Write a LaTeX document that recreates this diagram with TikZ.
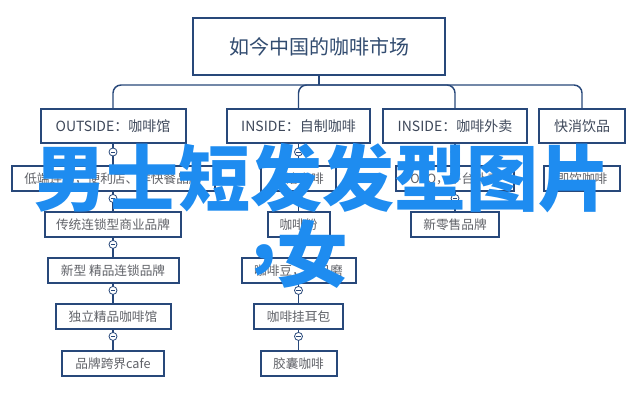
\documentclass[tikz,border=0pt]{standalone}
\usepackage{fontspec}
\setmainfont{Noto Sans CJK SC}

\definecolor{boxline}{RGB}{40,72,122}
\definecolor{headtext}{RGB}{50,76,112}
\definecolor{subtext}{RGB}{62,72,90}
\definecolor{leaftext}{RGB}{96,98,104}
\definecolor{overlay}{RGB}{30,140,240}

\tikzset{every picture/.style={line width=0.75pt}}
\tikzset{
  topbox/.style={draw=boxline, line width=2.2pt, fill=white, inner sep=0pt,
    minimum width=189pt, minimum height=42.75pt, text=headtext, font=\fontsize{15}{18}\selectfont},
  kindbox/.style={draw=boxline, line width=1.5pt, fill=white, inner sep=0pt,
    minimum height=25.5pt, text=subtext, font=\fontsize{10.5}{12}\selectfont},
  leafbox/.style={draw=boxline, line width=1.5pt, fill=white, inner sep=0pt,
    minimum height=18.4pt, text=leaftext, font=\fontsize{9.5}{11}\selectfont},
  link/.style={draw=boxline, line width=1.1pt},
  fold/.style={circle, draw=boxline, line width=0.6pt, fill=white, inner sep=0pt, minimum size=6pt,
    path picture={\draw[boxline, line width=0.5pt] ([xshift=-1.6pt]path picture bounding box.center) -- ([xshift=1.6pt]path picture bounding box.center);}},
  stamp/.style={text=overlay, inner sep=0pt, font=\fontsize{54}{60}\selectfont\bfseries}
}

\begin{document}
\begin{tikzpicture}[x=0.75pt,y=0.75pt,yscale=-1,xscale=1]
	\useasboundingbox (0,0) rectangle (640,400);
	
	%Title box
	\node [topbox] (market) at (319,46.5) {如今中国的咖啡市场};
	\coordinate (bus) at (319,85);
	
	%Second row
	\node [kindbox, minimum width=108.75pt] (outside) at (113,126) {OUTSIDE：咖啡馆};
	\node [kindbox, minimum width=107.25pt] (homemade) at (298.5,126) {INSIDE：自制咖啡};
	\node [kindbox, minimum width=108pt] (delivery) at (455,126) {INSIDE：咖啡外卖};
	\node [kindbox, minimum width=64.5pt] (fmcg) at (582,126) {快消饮品};
	
	%Outside column
	\node [leafbox, minimum width=152.25pt] (lowend) at (113,178.5) {低端连锁，便利店、洋快餐品牌};
	\node [leafbox, minimum width=102pt] (classic) at (113,224.5) {传统连锁型商业品牌};
	\node [leafbox, minimum width=98.25pt] (boutique) at (113,270.5) {新型 精品连锁品牌};
	\node [leafbox, minimum width=86.25pt] (indie) at (113,316.5) {独立精品咖啡馆};
	\node [leafbox, minimum width=76.5pt] (crossover) at (113,363.5) {品牌跨界cafe};
	
	%Homemade column
	\node [leafbox, minimum width=56.25pt] (instant) at (298.5,178.5) {速溶咖啡};
	\node [leafbox, minimum width=46.5pt] (powder) at (298.5,224.5) {咖啡粉};
	\node [leafbox, minimum width=85.5pt] (beans) at (298.5,270.5) {咖啡豆，自已磨};
	\node [leafbox, minimum width=66.75pt] (dripbag) at (298.5,316.5) {咖啡挂耳包};
	\node [leafbox, minimum width=57pt] (capsule) at (298.5,363.5) {胶囊咖啡};
	
	%Delivery column
	\node [leafbox, minimum width=88.5pt] (otwoo) at (455,178.5) {O2O，平台外卖};
	\node [leafbox, minimum width=66pt] (newretail) at (455,224.5) {新零售品牌};
	
	%FMCG column
	\node [leafbox, minimum width=57pt] (ready) at (582,178.5) {即饮咖啡};
	
	%Tree from title
	\draw [link] (market.south) -- (bus);
	\draw [link, rounded corners=6] (bus) -| (outside.north);
	\draw [link, rounded corners=6] (bus) -| (homemade.north);
	\draw [link, rounded corners=6] (bus) -| (delivery.north);
	\draw [link, rounded corners=6] (bus) -| (fmcg.north);
	
	%Straight links
	\draw [link] (outside.south) -- (lowend.north);
	\draw [link] (lowend.south) -- (classic.north);
	\draw [link] (classic.south) -- (boutique.north);
	\draw [link] (boutique.south) -- (indie.north);
	\draw [link] (indie.south) -- (crossover.north);
	\draw [link] (homemade.south) -- (instant.north);
	\draw [link] (instant.south) -- (powder.north);
	\draw [link] (powder.south) -- (beans.north);
	\draw [link] (beans.south) -- (dripbag.north);
	\draw [link] (dripbag.south) -- (capsule.north);
	\draw [link] (delivery.south) -- (otwoo.north);
	\draw [link] (otwoo.south) -- (newretail.north);
	\draw [link] (fmcg.south) -- (ready.north);
	
	%Fold markers (yscale=-1, so a positive yshift goes down)
	\node [fold] (f1) at ([yshift=6pt]outside.south) {};
	\node [fold] (f2) at ([yshift=5pt]lowend.south) {};
	\node [fold] (f3) at ([yshift=5pt]classic.south) {};
	\node [fold] (f4) at ([yshift=5pt]boutique.south) {};
	\node [fold] (f5) at ([yshift=5pt]indie.south) {};
	\node [fold] (f6) at ([yshift=6pt]homemade.south) {};
	\node [fold] (f7) at ([yshift=5pt]instant.south) {};
	\node [fold] (f8) at ([yshift=5pt]powder.south) {};
	\node [fold] (f9) at ([yshift=5pt]beans.south) {};
	\node [fold] (f10) at ([yshift=5pt]dripbag.south) {};
	\node [fold] (f11) at ([yshift=6pt]delivery.south) {};
	\node [fold] (f12) at ([yshift=5pt]otwoo.south) {};
	\node [fold] (f13) at ([yshift=6pt]fmcg.south) {};
	
	%Overlay caption
	\node [stamp] (capline) at (323,178) {男士短发发型图片};
	\node [stamp] (captail) at (300,254) {\raisebox{0.3em}{,}女};
	
\end{tikzpicture}
\end{document}
